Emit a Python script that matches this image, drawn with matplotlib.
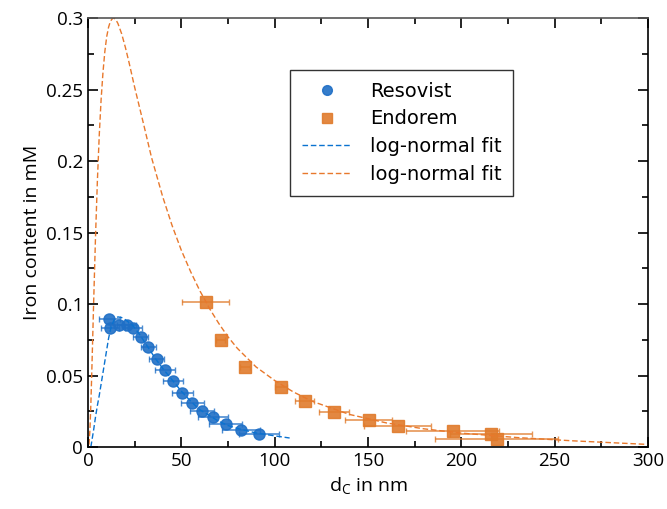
import matplotlib
matplotlib.use('Agg')
import matplotlib.pyplot as plt

# Resovist data points (d_C in nm, iron content in mM, x error)
res_d = [11.4, 11.8, 16.6, 20.7, 24.3, 28.2, 32.3, 36.8, 41.2, 45.7, 50.5, 55.9, 61.1, 67.1, 73.7, 81.9, 91.6]
res_c = [0.0895, 0.0834, 0.0853, 0.0853, 0.083, 0.0772, 0.0701, 0.0615, 0.0538, 0.0459, 0.038, 0.031, 0.0254, 0.0207, 0.0158, 0.0119, 0.0089]
res_err = [5.6, 5.0, 5.0, 5.0, 4.5, 4.0, 4.0, 4.1, 5.2, 5.4, 5.6, 6.0, 6.6, 8.0, 9.0, 10.0, 10.7]

# Endorem data points
end_d = [63.0, 71.1, 84.1, 103.4, 116.1, 131.8, 150.3, 165.9, 195.3, 215.7, 218.9]
end_c = [0.1012, 0.0746, 0.0557, 0.0422, 0.0324, 0.0247, 0.0191, 0.0149, 0.0112, 0.0089, 0.0054]
end_err = [12.4, 2.5, 2.5, 3.3, 5.0, 8.2, 12.7, 18.0, 25.0, 22.0, 33.0]

# log-normal fit curves
fit_res_d = [1.5, 2, 3, 4, 5, 6, 7, 8, 9, 10, 11, 12, 13, 14, 16, 18, 20, 24, 28, 32, 36, 40, 45,
             50, 55, 60, 65, 70, 75, 80, 90, 100, 108]
fit_res_c = [0.0, 0.004, 0.012, 0.021, 0.029, 0.036, 0.044, 0.052, 0.060, 0.068, 0.076, 0.082, 0.086,
             0.089, 0.091, 0.0905, 0.089, 0.085, 0.078, 0.070, 0.062, 0.055, 0.047, 0.039, 0.032,
             0.026, 0.022, 0.018, 0.015, 0.013, 0.0098, 0.0078, 0.0063]

fit_end_d = [0.5, 1, 1.5, 2, 3, 4, 5, 6, 7, 8, 9, 10, 11, 12, 13, 13.6, 14.5, 15, 16, 18, 20, 22, 25,
             30, 34, 40, 45, 50, 55, 60, 63, 65, 70, 75, 80, 90, 100, 110, 120, 140, 160, 180, 200,
             230, 260, 300]
fit_end_c = [0.0017, 0.0117, 0.0296, 0.0521, 0.101, 0.147, 0.186, 0.218, 0.243, 0.262, 0.2766, 0.287,
             0.2936, 0.2978, 0.2995, 0.300, 0.2994, 0.2986, 0.2962, 0.289, 0.2795, 0.2687, 0.2514,
             0.2245, 0.2025, 0.175, 0.155, 0.1375, 0.1225, 0.109, 0.102, 0.097, 0.0865, 0.077,
             0.069, 0.056, 0.0465, 0.0385, 0.032, 0.0228, 0.0168, 0.0127, 0.0097, 0.0066, 0.0043,
             0.0018]

blue = '#1f6fc6'
orange = '#e07b2c'

fig = plt.figure(figsize=(6.67, 5.09), dpi=100)
ax = fig.add_axes([0.132, 0.1218, 0.8395, 0.8428])

ax.errorbar(res_d, res_c, xerr=res_err, fmt='none', ecolor=blue, elinewidth=1.2, capsize=2.5, alpha=0.8)
ax.errorbar(end_d, end_c, xerr=end_err, fmt='none', ecolor=orange, elinewidth=1.2, capsize=2.5, alpha=0.8)

ax.plot(res_d, res_c, 'o', color=blue, markersize=8, alpha=0.9, label='Resovist')
ax.plot(end_d, end_c, 's', color=orange, markersize=8, alpha=0.9, label='Endorem')
ax.plot(fit_res_d, fit_res_c, '--', color='#0a72d0', lw=1, dashes=(4, 2), label='log-normal fit')
ax.plot(fit_end_d, fit_end_c, '--', color='#e8782c', lw=1, dashes=(4, 2), label='log-normal fit')

ax.set_xlim(0, 300)
ax.set_ylim(0, 0.3)
ax.set_xticks([0, 50, 100, 150, 200, 250, 300])
ax.set_xticks([25, 75, 125, 175, 225, 275], minor=True)
ax.set_yticks([0, 0.05, 0.1, 0.15, 0.2, 0.25, 0.3])
ax.set_yticks([0.025, 0.075, 0.125, 0.175, 0.225, 0.275], minor=True)
ax.set_yticklabels(['0', '0.05', '0.1', '0.15', '0.2', '0.25', '0.3'])
ax.tick_params(which='both', direction='in', top=True, right=True, labelsize=13.5, width=1.2)
ax.tick_params(which='major', length=7)
ax.tick_params(which='minor', length=4)
for lab in ax.get_xticklabels() + ax.get_yticklabels():
    lab.set_family('Open Sans')
for s in ax.spines.values():
    s.set_linewidth(1.2)
ax.spines['top'].set_color('#555555')

ax.set_xlabel('d$_\\mathregular{C}$ in nm', fontsize=14, family='Open Sans')
ax.set_ylabel('Iron content in mM', fontsize=14, family='Open Sans')

leg = ax.legend(loc='upper left', bbox_to_anchor=(0.361, 0.879), fontsize=14, frameon=True,
                fancybox=False, edgecolor='black', handlelength=2.6, handletextpad=0.9,
                borderpad=0.6, labelspacing=0.45, borderaxespad=0)
leg.get_frame().set_linewidth(1)
for h in leg.legend_handles[:2]:
    h.set_markersize(7)

fig.savefig('out.png', dpi=100)
